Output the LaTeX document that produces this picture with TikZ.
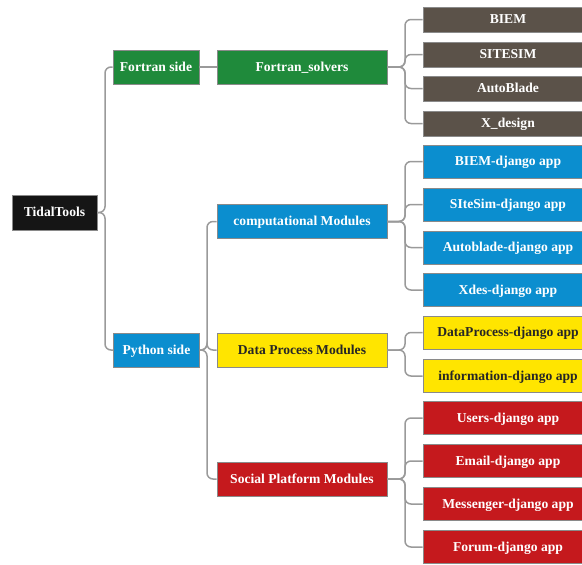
\documentclass[tikz,border=0pt]{standalone}
\usepackage{fontspec}
\setmainfont{Liberation Serif}
\begin{document}
\definecolor{rootc}{HTML}{151515}
\definecolor{fortc}{HTML}{1F8A3B}
\definecolor{solvc}{HTML}{5B5249}
\definecolor{pyc}{HTML}{0B8ECF}
\definecolor{datac}{HTML}{FFE500}
\definecolor{socc}{HTML}{C5191D}
\definecolor{edgec}{HTML}{9A9A9A}
\definecolor{framec}{HTML}{8A8A8A}
\begin{tikzpicture}[x=1pt,y=-1pt,
  box/.style={draw=framec,line width=0.8pt,inner sep=0pt,
    text height=9.6pt,text depth=1.2pt,
    font=\fontsize{13.6}{16}\selectfont\bfseries,text=white},
  rootbox/.style={box,fill=rootc,minimum width=85pt,minimum height=35pt},
  sidebox/.style={box,minimum width=86pt,minimum height=34pt},
  modbox/.style={box,minimum width=170pt,minimum height=34pt},
  leafbox/.style={box,minimum width=170pt,minimum height=33pt},
  smallleaf/.style={box,fill=solvc,minimum width=170pt,minimum height=25pt},
  link/.style={draw=edgec,line width=1.5pt,rounded corners=6pt}]
\useasboundingbox (0,0) rectangle (582,565);
\clip (0,0) rectangle (582,565);

% root and the two sides
\node[rootbox] (root) at (54.5,212.5) {TidalTools};
\node[sidebox,fill=fortc] (fside) at (156,67) {Fortran side};
\node[sidebox,fill=pyc] (pside) at (156.5,350) {Python side};

% second level
\node[modbox,fill=fortc] (fsolv) at (302,67) {Fortran\_solvers};
\node[modbox,fill=pyc] (comp) at (302,221.5) {computational Modules};
\node[modbox,fill=datac,text=black!85] (data) at (302,350) {Data Process Modules};
\node[modbox,fill=socc] (soc) at (302,479) {Social Platform Modules};

% solvers
\node[smallleaf] (biem) at (508,19.5) {BIEM};
\node[smallleaf] (sitesim) at (508,54.5) {SITESIM};
\node[smallleaf] (autob) at (508,88.5) {AutoBlade};
\node[smallleaf] (xdes) at (508,123.5) {X\_design};

% computational apps
\node[leafbox,fill=pyc] (c1) at (508,161.5) {BIEM-django app};
\node[leafbox,fill=pyc] (c2) at (508,204.5) {SIteSim-django app};
\node[leafbox,fill=pyc] (c3) at (508,247.5) {Autoblade-django app};
\node[leafbox,fill=pyc] (c4) at (508,290) {Xdes-django app};

% data process apps
\node[leafbox,fill=datac,text=black!85] (d1) at (508,332.5) {DataProcess-django app};
\node[leafbox,fill=datac,text=black!85] (d2) at (508,376) {information-django app};

% social platform apps
\node[leafbox,fill=socc] (s1) at (508,418) {Users-django app};
\node[leafbox,fill=socc] (s2) at (508,461) {Email-django app};
\node[leafbox,fill=socc] (s3) at (508,504) {Messenger-django app};
\node[leafbox,fill=socc] (s4) at (508,547) {Forum-django app};

% connectors: stub, vertical bus, stub
\foreach \c in {fside,pside}
  \draw[link] (root.east) -- (105,212.5) |- (\c.west);
\draw[link] (fside.east) -- (fsolv.west);
\foreach \c in {comp,data,soc}
  \draw[link] (pside.east) -- (207,350) |- (\c.west);
\foreach \c in {biem,sitesim,autob,xdes}
  \draw[link] (fsolv.east) -- (405,67) |- (\c.west);
\foreach \c in {c1,c2,c3,c4}
  \draw[link] (comp.east) -- (405,221.5) |- (\c.west);
\foreach \c in {d1,d2}
  \draw[link] (data.east) -- (405,350) |- (\c.west);
\foreach \c in {s1,s2,s3,s4}
  \draw[link] (soc.east) -- (405,479) |- (\c.west);
\end{tikzpicture}
\end{document}
